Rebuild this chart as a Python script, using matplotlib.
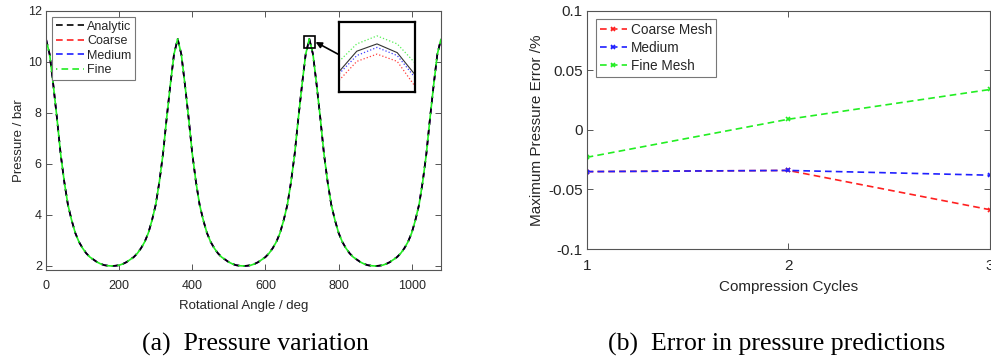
import numpy as np
import matplotlib
matplotlib.use("Agg")
import matplotlib.pyplot as plt
from matplotlib.patches import Rectangle

angle_deg = np.arange(0, 1081, 10)
pressure_bar = [
    10.9, 10.3, 9.1, 7.8, 6.4, 5.3, 4.4, 3.8, 3.3, 2.95, 2.7, 2.5, 2.35, 2.25, 2.15, 2.08, 2.03, 2.01, 2.0,
    2.01, 2.03, 2.08, 2.15, 2.25, 2.35, 2.5, 2.7, 2.95, 3.3, 3.8, 4.4, 5.3, 6.4, 7.8, 9.1, 10.3, 10.9,
    10.3, 9.1, 7.8, 6.4, 5.3, 4.4, 3.8, 3.3, 2.95, 2.7, 2.5, 2.35, 2.25, 2.15, 2.08, 2.03, 2.01, 2.0,
    2.01, 2.03, 2.08, 2.15, 2.25, 2.35, 2.5, 2.7, 2.95, 3.3, 3.8, 4.4, 5.3, 6.4, 7.8, 9.1, 10.3, 10.9,
    10.3, 9.1, 7.8, 6.4, 5.3, 4.4, 3.8, 3.3, 2.95, 2.7, 2.5, 2.35, 2.25, 2.15, 2.08, 2.03, 2.01, 2.0,
    2.01, 2.03, 2.08, 2.15, 2.25, 2.35, 2.5, 2.7, 2.95, 3.3, 3.8, 4.4, 5.3, 6.4, 7.8, 9.1, 10.3, 10.9,
]

# zoomed peak around 720 deg (inset)
peak_deg = [705, 712, 720, 728, 735]
peak_analytic = [10.68, 10.82, 10.87, 10.81, 10.66]
peak_coarse = [10.62, 10.75, 10.80, 10.75, 10.58]
peak_medium = [10.665, 10.79, 10.846, 10.79, 10.64]
peak_fine = [10.75, 10.87, 10.925, 10.87, 10.74]

# (b) max pressure error per compression cycle
cycles = [1, 2, 3]
err_coarse = [-0.035, -0.034, -0.067]
err_medium = [-0.035, -0.034, -0.038]
err_fine = [-0.023, 0.009, 0.034]

txt = "#262626"
edge = "#555555"
plt.rcParams["font.family"] = ["Liberation Sans", "DejaVu Sans"]
plt.rcParams["text.color"] = txt
plt.rcParams["axes.labelcolor"] = txt
plt.rcParams["xtick.color"] = txt
plt.rcParams["ytick.color"] = txt

fig = plt.figure(figsize=(9.91, 3.63), dpi=100)


def style_axes(ax, size, xpad):
    for s in ax.spines.values():
        s.set_color(edge)
        s.set_linewidth(0.8)
    ax.tick_params(direction="in", top=True, right=True, length=4,
                   width=0.7, color=edge, labelsize=size)
    ax.tick_params(axis="x", pad=xpad)
    ax.tick_params(axis="y", pad=3)


# ---- (a) ----
dash = (4, 2.5)
ax1 = fig.add_axes([0.0464, 0.256, 0.3986, 0.714])
ax1.plot(angle_deg, pressure_bar, color="k", ls=(0, dash), lw=1.2, label="Analytic", zorder=2.3)
ax1.plot(angle_deg, pressure_bar, color="#ff2020", ls=(0, dash), lw=1.2, label="Coarse", zorder=2.1)
ax1.plot(angle_deg, pressure_bar, color="#1f1fff", ls=(0, dash), lw=1.2, label="Medium", zorder=2.2)
ax1.plot(angle_deg, pressure_bar, color="#22ee22", ls=(3.2, dash), lw=1.2, label="Fine", zorder=2.4)
ax1.set_xlim(0, 1080)
ax1.set_ylim(1.84, 12)
ax1.set_xticks([0, 200, 400, 600, 800, 1000])
ax1.set_yticks([2, 4, 6, 8, 10, 12])
ax1.set_xlabel("Rotational Angle / deg", fontsize=9.5, labelpad=6)
ax1.set_ylabel("Pressure / bar", fontsize=9.5, labelpad=2)
style_axes(ax1, 9, 7)
leg1 = ax1.legend(loc="upper left", bbox_to_anchor=(0.016, 0.976), fontsize=9,
                  fancybox=False, edgecolor="#777777", framealpha=1,
                  handlelength=2.2, handletextpad=0.3, borderpad=0.3,
                  labelspacing=0.2, borderaxespad=0)
leg1.get_frame().set_linewidth(0.8)

# marker box at the 720 deg peak plus the zoomed inset
ax1.add_patch(Rectangle((705, 10.54), 30, 0.48, fill=False, ec="k", lw=1.2, zorder=5))
ins = ax1.inset_axes([0.742, 0.687, 0.192, 0.270])
ins.plot(peak_deg, peak_analytic, color="#333333", lw=0.8)
ins.plot(peak_deg, peak_coarse, color="#ff4040", ls=":", lw=0.9)
ins.plot(peak_deg, peak_medium, color="#4040ff", ls=":", lw=0.9)
ins.plot(peak_deg, peak_fine, color="#55ee55", ls=":", lw=0.9)
ins.set_xlim(705, 735)
ins.set_ylim(10.54, 11.02)
ins.set_xticks([])
ins.set_yticks([])
for s in ins.spines.values():
    s.set_linewidth(1.6)
    s.set_color("k")
ax1.annotate("", xy=(737, 10.78), xycoords="data",
             xytext=(0.743, 0.83), textcoords="axes fraction",
             arrowprops=dict(arrowstyle="-|>", color="k", lw=1.2,
                             mutation_scale=9, shrinkA=0, shrinkB=0))

# ---- (b) ----
ax2 = fig.add_axes([0.592, 0.314, 0.407, 0.656])
ax2.plot(cycles, err_coarse, color="#ff2020", ls=(0, dash), lw=1.2,
         marker="x", ms=3.5, mew=1.2, label="Coarse Mesh")
ax2.plot(cycles, err_medium, color="#1f1fff", ls=(0, dash), lw=1.2,
         marker="x", ms=3.5, mew=1.2, label="Medium")
ax2.plot(cycles, err_fine, color="#22ee22", ls=(0, dash), lw=1.2,
         marker="x", ms=3.5, mew=1.2, label="Fine Mesh")
ax2.set_xlim(1, 3)
ax2.set_ylim(-0.1, 0.1)
ax2.set_xticks(cycles)
ax2.set_yticks([-0.1, -0.05, 0, 0.05, 0.1])
ax2.set_yticklabels(["-0.1", "-0.05", "0", "0.05", "0.1"])
ax2.set_xlabel("Compression Cycles", fontsize=11, labelpad=5)
ax2.set_ylabel("Maximum Pressure Error /%", fontsize=11, labelpad=3)
style_axes(ax2, 11, 7)
leg2 = ax2.legend(loc="upper left", bbox_to_anchor=(0.022, 0.966), fontsize=9.8,
                  fancybox=False, edgecolor="#777777", framealpha=1,
                  handlelength=2.0, handletextpad=0.3, borderpad=0.3,
                  labelspacing=0.3, borderaxespad=0, numpoints=1)
leg2.get_frame().set_linewidth(0.8)

# sub-captions
cap = dict(family=["Liberation Serif", "DejaVu Serif"], fontsize=18.5, color="k",
           ha="center", va="center")
fig.text(255 / 991, 1 - 344 / 363, "(a)  Pressure variation", **cap)
fig.text(777 / 991, 1 - 344 / 363, "(b)  Error in pressure predictions", **cap)

fig.savefig("out.png", dpi=100)
